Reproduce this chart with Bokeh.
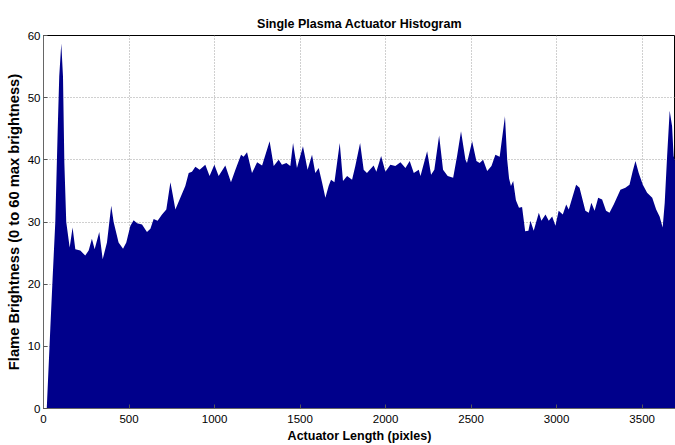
from bokeh.plotting import figure
from bokeh.models import Range1d, FixedTicker
from bokeh.embed import file_html
from bokeh.resources import INLINE

# Actuator position (pixels) and flame brightness (0-60)
position = [19, 40, 53, 69, 83, 92, 104, 114, 122, 133, 153, 170, 186, 215, 244, 264,
            283, 299, 326, 346, 371, 396, 410, 439, 465, 484, 508, 527, 547, 576, 605,
            625, 644, 667, 693, 718, 742, 757, 771, 800, 829, 849, 868, 888, 913, 946,
            971, 999, 1024, 1063, 1096, 1122, 1155, 1170, 1190, 1219, 1249, 1278, 1322,
            1346, 1375, 1394, 1420, 1443, 1459, 1482, 1517, 1544, 1570, 1589, 1609, 1629,
            1648, 1667, 1681, 1701, 1732, 1751, 1775, 1804, 1823, 1851, 1872, 1891, 1930,
            1946, 1974, 1999, 2028, 2057, 2087, 2116, 2141, 2165, 2194, 2204, 2243, 2266,
            2285, 2313, 2336, 2363, 2395, 2418, 2441, 2467, 2476, 2506, 2531, 2550, 2570,
            2594, 2619, 2642, 2667, 2698, 2711, 2722, 2733, 2746, 2762, 2780, 2798, 2816,
            2835, 2847, 2866, 2896, 2911, 2935, 2954, 2974, 2993, 3012, 3036, 3056, 3071,
            3114, 3134, 3168, 3188, 3203, 3222, 3243, 3266, 3289, 3309, 3334, 3373, 3402,
            3426, 3445, 3461, 3480, 3504, 3529, 3559, 3582, 3602, 3620, 3632, 3646, 3661,
            3675, 3684, 3695]
brightness = [0, 13, 20.8, 30, 44.8, 53.4, 58.7, 53.4, 39.5, 30, 25.9, 29.1, 25.6, 25.4,
              24.6, 25.4, 27.3, 25.6, 28.4, 24.0, 26.7, 32.6, 30, 26.7, 25.7, 26.7, 29.4,
              30.3, 29.8, 29.6, 28.4, 28.9, 30.5, 30.2, 31.2, 32.0, 36.4, 34.2, 32.0, 33.9,
              35.8, 37.9, 38.1, 38.9, 38.4, 39.2, 37.4, 39.2, 37.4, 39.1, 36.4, 38.4, 40.8,
              40.5, 41.2, 37.9, 39.6, 39.1, 43.0, 39.0, 40.0, 39.2, 39.5, 39.0, 42.7, 38.7,
              42.2, 38.4, 40.8, 37.9, 38.7, 36.3, 33.9, 35.8, 36.8, 36.4, 42.7, 36.6, 37.4,
              36.8, 39.0, 42.7, 38.4, 37.9, 39.1, 38.1, 40.6, 38.1, 39.2, 39.0, 39.6, 38.7,
              39.8, 37.9, 38.4, 37.4, 41.4, 37.6, 38.4, 43.9, 38.4, 37.4, 37.1, 40.6, 44.6,
              40.0, 39.5, 43.0, 39.8, 39.5, 40.0, 38.2, 39.0, 40.8, 40.5, 47.0, 40.0, 37.0,
              35.8, 36.6, 33.5, 32.3, 32.4, 28.5, 28.6, 30.2, 28.6, 31.5, 30.2, 31.2, 30.2,
              30.9, 29.4, 31.8, 31.2, 32.8, 32.0, 36.0, 35.5, 31.8, 31.5, 33.1, 31.8, 33.9,
              33.6, 31.8, 31.5, 32.8, 35.2, 35.5, 36.0, 38.2, 39.8, 37.9, 36.0, 34.7, 33.9,
              32.0, 30.9, 29.1, 33.1, 40.6, 47.9, 45.4, 40.6, 39.5]

x_ticks = [0, 500, 1000, 1500, 2000, 2500, 3000, 3500]
y_ticks = [0, 10, 20, 30, 40, 50, 60]

FONT = "Liberation Sans"

p = figure(width=675, height=445, output_backend="svg", toolbar_location=None,
           title="Single Plasma Actuator Histogram",
           x_range=Range1d(0, 3695), y_range=Range1d(0, 60),
           min_border_left=43, min_border_right=0, min_border_top=35,
           min_border_bottom=35)

p.varea(x=position, y1=0, y2=brightness, fill_color="#00008B", fill_alpha=1.0)

p.title.align = "center"
p.title.text_font = FONT
p.title.text_font_size = "12.5px"
p.title.text_font_style = "bold"
p.title.text_color = "black"
p.title.standoff = 10

p.outline_line_color = "black"
p.outline_line_width = 1
p.background_fill_color = "white"
p.border_fill_color = "white"

for ax in (p.xaxis[0], p.yaxis[0]):
    ax.major_label_text_font = FONT
    ax.major_label_text_font_size = "11.5px"
    ax.major_label_text_color = "black"
    ax.axis_label_text_font = FONT
    ax.axis_label_text_font_style = "bold"
    ax.axis_label_text_color = "black"
    ax.major_tick_in = 4
    ax.major_tick_out = 0
    ax.minor_tick_in = 0
    ax.minor_tick_out = 0
    ax.axis_line_color = "#666666"
    ax.major_tick_line_color = "#555555"

p.xaxis.ticker = FixedTicker(ticks=x_ticks)
p.yaxis.ticker = FixedTicker(ticks=y_ticks)
p.xaxis.axis_label = "Actuator Length (pixles)"
p.yaxis.axis_label = "Flame Brightness (0 to 60 max brightness)"
p.xaxis.axis_label_text_font_size = "12.5px"
p.yaxis.axis_label_text_font_size = "14.7px"
p.xaxis.major_label_standoff = 6
p.yaxis.major_label_standoff = 3
p.xaxis.axis_label_standoff = 3
p.yaxis.axis_label_standoff = 3

p.grid.grid_line_color = "#a0a0a0"
p.grid.grid_line_dash = "1 2"
p.grid.grid_line_width = 1

open("out.html", "w").write(file_html(p, INLINE))
